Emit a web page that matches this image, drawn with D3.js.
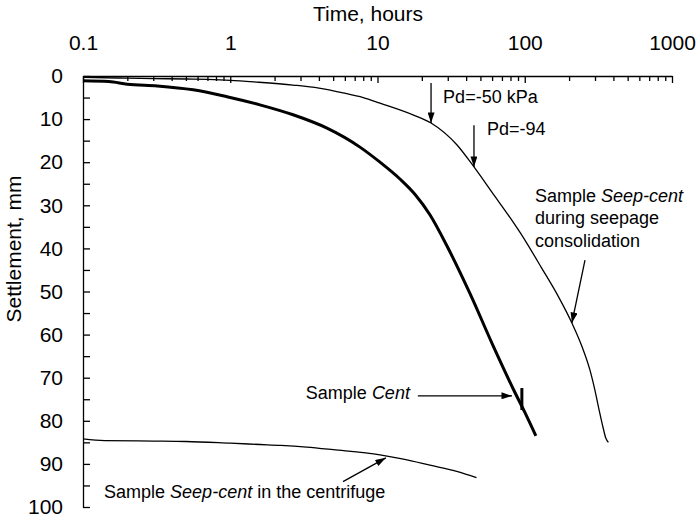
<!DOCTYPE html>
<html>
<head>
<meta charset="utf-8">
<script src="https://cdn.jsdelivr.net/npm/d3@7"></script>
<style>
  body { margin: 0; background: #fff; }
  svg { display: block; font-family: "Liberation Sans", Arial, sans-serif; }
</style>
</head>
<body>
<svg id="chart" width="699" height="517"></svg>
<script>
// time in hours, settlement in mm
const seepTime   = [0.1, 0.2, 0.3, 0.5, 0.7, 1, 1.5, 2.67, 4, 5.83, 8, 10.4, 17.4, 23.1, 34.7, 45.2, 60, 81.9, 92.9, 130, 170, 209, 245, 277, 300, 320, 340, 355, 370];
const seepSettle = [0.3, 0.5, 0.6, 0.7, 0.8, 1.0, 1.4, 2.1, 2.8, 3.9, 5.0, 6.3, 9.0, 10.9, 16.0, 21.1, 27, 33.5, 36.3, 44.5, 51.3, 57.3, 62.8, 68.2, 73, 77.5, 81.5, 84, 85];

const centTime   = [0.1, 0.15, 0.2, 0.32, 0.56, 0.95, 1.59, 2.67, 4.54, 7.6, 10.4, 14.2, 18, 22.7, 30, 42.5, 60.8, 83.2, 100, 119];
const centSettle = [1.1, 1.3, 1.9, 2.3, 3.2, 4.8, 6.7, 9.0, 12.1, 16.5, 20, 23.9, 27.5, 32.2, 39.8, 50.5, 62.5, 72.5, 78, 83.5];

const fugeTime   = [0.1, 0.14, 0.3, 0.5, 1, 1.6, 2.2, 3.3, 5, 10.4, 15, 22.7, 35, 47];
const fugeSettle = [84.2, 84.6, 84.7, 84.8, 85.2, 85.5, 85.7, 86.1, 86.7, 87.9, 88.9, 90.3, 91.8, 93.2];

const xMajor = [0.1, 1, 10, 100, 1000];
const yMajor = [0, 10, 20, 30, 40, 50, 60, 70, 80, 90, 100];
const yMinor = [5, 15, 25, 35, 45, 55, 65, 75, 85, 95];

// step seen on the Cent curve
const centMark = {t: 95.6, s0: 72.4, s1: 77.5};

// arrows: [t0, s0, t1, s1] tail -> tip
const arrows = [
    [23.1, 1.6, 23.1, 10.9],
    [45.2, 11.4, 45.2, 21.1],
    [256.5, 42.7, 209, 57.3],
    [18.8, 74.2, 81.9, 74.2],
    [5.83, 94.1, 11.4, 88.6]
];

const svg = d3.select("#chart");
const x = d3.scaleLog().domain([0.1, 1000]).range([83, 672]);
const y = d3.scaleLinear().domain([0, 100]).range([76, 507]);

const fontSize = 21;

// top axis
const gx = svg.append("g").attr("transform", `translate(0,${y(0)})`);
gx.call(d3.axisTop(x).tickValues(x.ticks().filter(d => !xMajor.includes(d)))
    .tickSize(-5).tickSizeOuter(0).tickFormat(""));
gx.call(g => g.select(".domain").remove());
const gx2 = svg.append("g").attr("transform", `translate(0,${y(0)})`);
gx2.call(d3.axisTop(x).tickValues(xMajor).tickSize(-7).tickSizeOuter(0)
    .tickPadding(26).tickFormat(d => String(d)));

// left axis
const gy = svg.append("g").attr("transform", `translate(${x(0.1)},0)`);
gy.call(d3.axisLeft(y).tickValues(yMinor).tickSize(-7).tickFormat(""));
gy.call(g => g.select(".domain").remove());
const gy2 = svg.append("g").attr("transform", `translate(${x(0.1)},0)`);
gy2.call(d3.axisLeft(y).tickValues(yMajor).tickSize(-7).tickSizeOuter(0).tickPadding(20));

svg.selectAll(".tick line, .domain").attr("stroke", "#000").attr("stroke-width", 1.3);
svg.selectAll(".tick text").attr("font-size", fontSize).attr("fill", "#000")
    .attr("font-family", "Liberation Sans, Arial, sans-serif");

// axis titles
svg.append("text").attr("x", 368).attr("y", 21).attr("text-anchor", "middle")
    .attr("font-size", fontSize).text("Time, hours");
svg.append("text").attr("transform", "translate(21,249) rotate(-90)")
    .attr("text-anchor", "middle").attr("font-size", fontSize).text("Settlement, mm");

// curves
const line = d3.line().x(d => x(d[0])).y(d => y(d[1])).curve(d3.curveMonotoneX);
const zip = (a, b) => a.map((v, i) => [v, b[i]]);

svg.append("path").datum(zip(seepTime, seepSettle)).attr("d", line)
    .attr("fill", "none").attr("stroke", "#000").attr("stroke-width", 1.3);
svg.append("path").datum(zip(fugeTime, fugeSettle)).attr("d", line)
    .attr("fill", "none").attr("stroke", "#000").attr("stroke-width", 1.3);
svg.append("path").datum(zip(centTime, centSettle)).attr("d", line)
    .attr("fill", "none").attr("stroke", "#000").attr("stroke-width", 3);
svg.append("line")
    .attr("x1", x(centMark.t)).attr("x2", x(centMark.t))
    .attr("y1", y(centMark.s0)).attr("y2", y(centMark.s1))
    .attr("stroke", "#000").attr("stroke-width", 3);

// arrowheads
svg.append("defs").append("marker")
    .attr("id", "head").attr("markerUnits", "userSpaceOnUse")
    .attr("viewBox", "0 0 12 8").attr("refX", 12).attr("refY", 4)
    .attr("markerWidth", 12).attr("markerHeight", 7).attr("orient", "auto")
    .append("path").attr("d", "M0,0 L12,4 L0,8 Z").attr("fill", "#000");

svg.selectAll(".arrow").data(arrows).enter().append("line")
    .attr("class", "arrow")
    .attr("x1", d => x(d[0])).attr("y1", d => y(d[1]))
    .attr("x2", d => x(d[2])).attr("y2", d => y(d[3]))
    .attr("stroke", "#000").attr("stroke-width", 1.3)
    .attr("marker-end", "url(#head)");

// annotations
const note = (t, s, anchor) => svg.append("text")
    .attr("x", x(t)).attr("y", y(s)).attr("font-size", 18)
    .attr("text-anchor", anchor || "start");

note(27.9, 6.3).text("Pd=-50 kPa");
note(55.4, 13.7).text("Pd=-94");

const t1 = note(117.4, 29.2);
t1.append("tspan").text("Sample ");
t1.append("tspan").attr("font-style", "italic").text("Seep-cent");
note(117.4, 34.3).text("during seepage");
note(117.4, 39.7).text("consolidation");

const t2 = note(16.6, 74.9, "end");
t2.append("tspan").text("Sample ");
t2.append("tspan").attr("font-style", "italic").text("Cent");

const t3 = note(0.139, 97.9);
t3.append("tspan").text("Sample ");
t3.append("tspan").attr("font-style", "italic").text("Seep-cent");
t3.append("tspan").text(" in the centrifuge");
</script>
</body>
</html>
